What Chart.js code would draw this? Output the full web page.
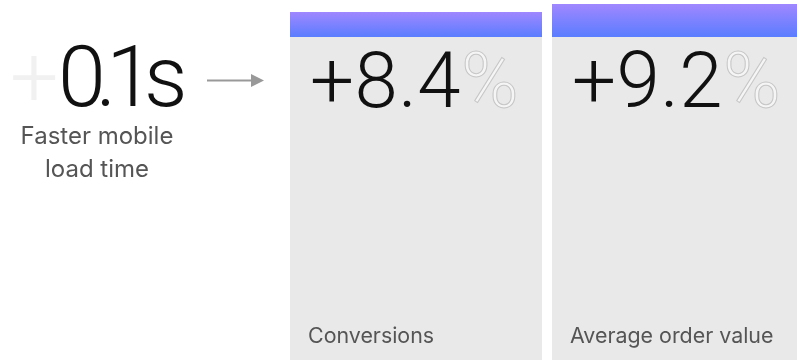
<!DOCTYPE html>
<html>
<head>
<meta charset="utf-8">
<script src="https://cdn.jsdelivr.net/npm/chart.js@4/dist/chart.umd.min.js"></script>
<style>
  html, body { margin: 0; padding: 0; background: #fff; overflow: hidden; }
  #wrap { position: relative; width: 797px; height: 361px; overflow: hidden; }
  canvas { display: block; }
</style>
</head>
<body>
<div id="wrap"><canvas id="c" width="812" height="361"></canvas></div>
<script>
// ---- data ----
const categories = ["Conversions", "Average order value"];
const upliftValues = [8.4, 9.2];          // % uplift
const valueUnit = "%";
const headlineValue = "0.1";
const headlineUnit = "s";
const headlineLabel = ["Faster mobile", "load time"];

const BIG = "Roboto, 'Noto Sans', sans-serif";
const SMALL = "Inter, 'Noto Sans', sans-serif";
const HEADER_BOTTOM = 37;
const PURPLE = "#a087ff";
const BLUE = "#5a7dff";
const CARD = "#e9e9e9";

// draw text so its ink spans [left, right]; returns x after last glyph advance
function fitText(ctx, text, left, right, y, drawFn) {
  ctx.letterSpacing = "0px";
  const m0 = ctx.measureText(text);
  const ink0 = m0.actualBoundingBoxLeft + m0.actualBoundingBoxRight;
  const n = text.length;
  const sp = n > 1 ? (right - left - ink0) / (n - 1) : 0;
  ctx.letterSpacing = sp + "px";
  const m = ctx.measureText(text);
  const x = left + m.actualBoundingBoxLeft;
  return { x, sp };
}

const overlay = {
  id: "overlay",
  afterDatasetsDraw(chart) {
    const ctx = chart.ctx;
    const meta = chart.getDatasetMeta(0);
    ctx.save();
    ctx.textBaseline = "alphabetic";
    meta.data.forEach((bar, i) => {
      const left = bar.x - bar.width / 2;
      ctx.font = "300 78px " + BIG;
      const txt = "+" + upliftValues[i].toFixed(1);
      const full = txt + valueUnit;
      const f = fitText(ctx, full, left + 22, left + 225, 107);
      ctx.fillStyle = "#111";
      ctx.fillText(txt, f.x, 107);
      const w = ctx.measureText(txt).width;
      ctx.letterSpacing = "0px";
      ctx.fillStyle = "#f5f5f5";
      ctx.strokeStyle = "#c6c6c6";
      ctx.lineWidth = 1;
      ctx.fillText(valueUnit, f.x + w, 107);
      ctx.strokeText(valueUnit, f.x + w, 107);
      ctx.font = "400 21.4px " + SMALL;
      ctx.fillStyle = "#555";
      ctx.fillText(categories[i], left + 18, 343);
    });

    // headline on the left
    ctx.font = "300 86px " + BIG;
    ctx.letterSpacing = "0px";
    ctx.fillStyle = "#f1f1f1";
    const mp = ctx.measureText("+");
    ctx.fillText("+", 13 + mp.actualBoundingBoxLeft, 106);
    const hv = headlineValue + headlineUnit;
    const fh = fitText(ctx, hv, 63, 183, 106);
    ctx.fillStyle = "#111";
    ctx.fillText(hv, fh.x, 106);
    ctx.letterSpacing = "0px";
    ctx.font = "400 24px " + SMALL;
    ctx.fillStyle = "#555";
    ctx.textAlign = "center";
    headlineLabel.forEach((line, k) => ctx.fillText(line, 97, 144 + k * 33));

    // arrow
    ctx.strokeStyle = "#999";
    ctx.fillStyle = "#999";
    ctx.lineWidth = 2;
    ctx.beginPath();
    ctx.moveTo(207, 80.5);
    ctx.lineTo(252, 80.5);
    ctx.stroke();
    ctx.beginPath();
    ctx.moveTo(251, 74);
    ctx.lineTo(264, 80.5);
    ctx.lineTo(251, 87);
    ctx.closePath();
    ctx.fill();
    ctx.restore();
  }
};

new Chart(document.getElementById("c"), {
  type: "bar",
  data: {
    labels: categories,
    datasets: [{
      data: upliftValues,
      base: -26.4,
      backgroundColor(context) {
        const chart = context.chart;
        const area = chart.chartArea;
        const ys = chart.scales && chart.scales.y;
        if (!area || !ys || context.type !== "data") return CARD;
        const top = ys.getPixelForValue(context.raw);
        const bottom = area.bottom;
        if (!isFinite(top) || !isFinite(bottom) || bottom <= top) return CARD;
        const g = chart.ctx.createLinearGradient(0, top, 0, bottom);
        const s = Math.max(0, Math.min(0.999, (HEADER_BOTTOM - top) / (bottom - top)));
        g.addColorStop(0, PURPLE);
        g.addColorStop(s, BLUE);
        g.addColorStop(Math.min(1, s + 0.0005), CARD);
        g.addColorStop(1, CARD);
        return g;
      },
      borderWidth: 0,
      barPercentage: 1,
      categoryPercentage: 252 / 262
    }]
  },
  options: {
    responsive: false,
    animation: false,
    layout: { padding: { left: 285, right: 3, top: 0, bottom: 1 } },
    plugins: { legend: { display: false }, tooltip: { enabled: false } },
    scales: {
      x: { display: false, offset: true },
      y: { display: false, min: -26.4, max: 9.6 }
    }
  },
  plugins: [overlay]
});
</script>
</body>
</html>
